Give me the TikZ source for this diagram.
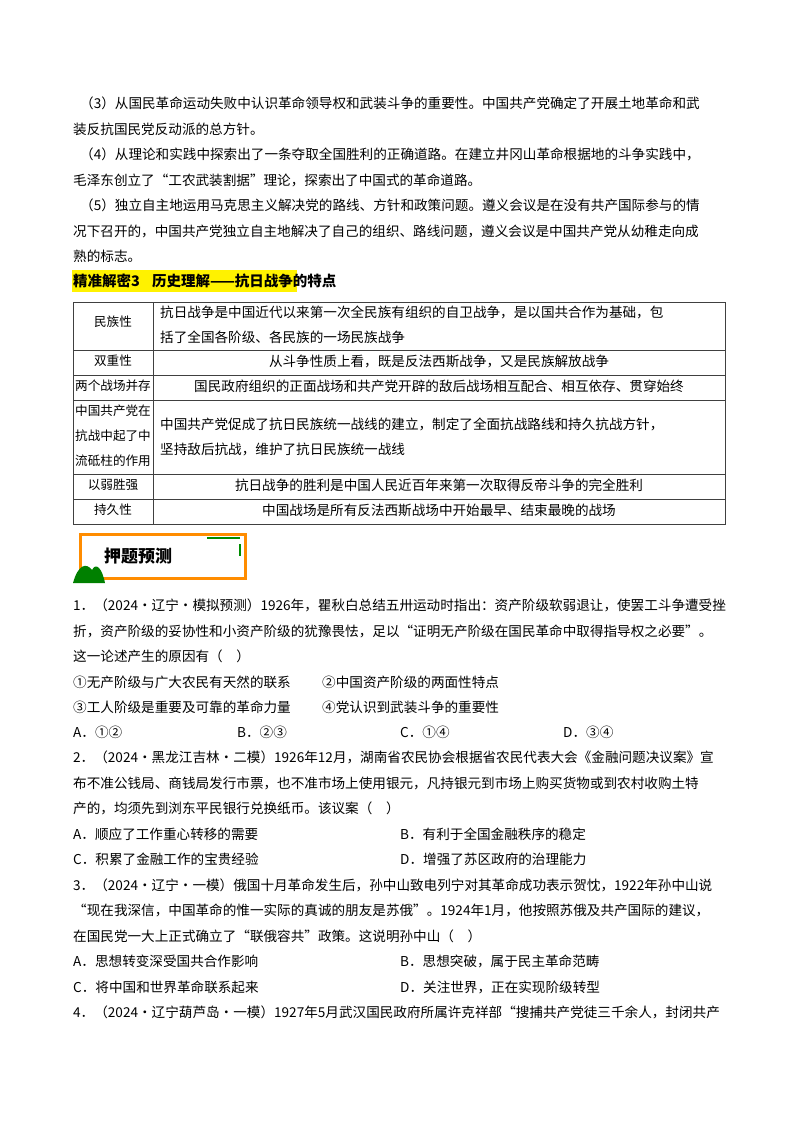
\documentclass[tikz,border=0pt]{standalone}
\usepackage{fontspec}
\setmainfont{Noto Sans CJK SC}
\XeTeXlinebreaklocale "zh"
\XeTeXlinebreakskip=0pt plus 2pt
\newcommand\myfl[4]{\node[anchor=west,inner sep=0pt] (#1) at (#2) {\makebox[#3pt][s]{#4}};}
\newcommand\myll[3]{\node[anchor=west,inner sep=0pt] (#1) at (#2) {#3};}
\newcommand\mycl[3]{\node[inner sep=0pt] (#1) at (#2) {#3};}
\newcommand\mysl[3]{\node[inner sep=0pt,font=\fontsize{12.6}{14}\selectfont] (#1) at (#2) {#3};}
\begin{document}
\begin{tikzpicture}[x=1pt,y=-1pt,font=\fontsize{13.6}{16}\selectfont,
  tline/.style={line width=0.6pt,black!75}]
\useasboundingbox[fill=white] (0,0) rectangle (800,1132);
\myfl{a1}{80,103}{640}{（3）从国民革命运动失败中认识革命领导权和武装斗争的重要性。中国共产党确定了开展土地革命和武}
\myll{a2}{73,129}{装反抗国民党反动派的总方针。}
\myfl{a3}{80,154}{627}{（4）从理论和实践中探索出了一条夺取全国胜利的正确道路。在建立井冈山革命根据地的斗争实践中，}
\myll{a4}{73,180}{毛泽东创立了“工农武装割据”理论，探索出了中国式的革命道路。}
\myfl{a5}{80,205}{640}{（5）独立自主地运用马克思主义解决党的路线、方针和政策问题。遵义会议是在没有共产国际参与的情}
\myfl{a6}{73,231}{647}{况下召开的，中国共产党独立自主地解决了自己的组织、路线问题，遵义会议是中国共产党从幼稚走向成}
\myll{a7}{73,256}{熟的标志。}
\fill[yellow] (72,270) rectangle (297,292);
\node[anchor=west,inner sep=0pt,font=\fontsize{14.5}{16}\selectfont\bfseries] (h) at (73,281) {精准解密3\hspace{12pt}历史理解——抗日战争的特点};
% table
\draw[tline] (73,302) rectangle (725,524);
\foreach \y in {350,375,400,474,499} \draw[tline] (73,\y) -- (725,\y);
\draw[tline] (153,302) -- (153,524);
\mysl{t1}{113,322}{民族性}
\myll{t1a}{160,312}{抗日战争是中国近代以来第一次全民族有组织的自卫战争，是以国共合作为基础，包}
\myll{t1b}{160,337}{括了全国各阶级、各民族的一场民族战争}
\mysl{t2}{113,361}{双重性}
\mycl{t2a}{439,361}{从斗争性质上看，既是反法西斯战争，又是民族解放战争}
\mysl{t3}{113,386}{两个战场并存}
\mycl{t3a}{439,386}{国民政府组织的正面战场和共产党开辟的敌后战场相互配合、相互依存、贯穿始终}
\mysl{t4}{113,411}{中国共产党在}
\mysl{t4b}{113,436}{抗战中起了中}
\mysl{t4c}{113,461}{流砥柱的作用}
\myll{t4a}{160,424}{中国共产党促成了抗日民族统一战线的建立，制定了全面抗战路线和持久抗战方针，}
\myll{t4d}{160,449}{坚持敌后抗战，维护了抗日民族统一战线}
\mysl{t5}{113,485}{以弱胜强}
\mycl{t5a}{439,485}{抗日战争的胜利是中国人民近百年来第一次取得反帝斗争的完全胜利}
\mysl{t6}{113,510}{持久性}
\mycl{t6a}{439,510}{中国战场是所有反法西斯战场中开始最早、结束最晚的战场}
% banner
\draw[orange!90!yellow,line width=3pt] (80,534) rectangle (245,578);
\draw[green!55!black,line width=1.5pt] (207,538) -- (240,538);
\draw[green!55!black,line width=1.2pt] (240,544) -- (240,556);
\fill[green!50!black] (73,583) .. controls (78,565) and (86,562) .. (92,570) .. controls (96,562) and (102,568) .. (105,583) -- cycle;
\node[font=\fontsize{17}{18}\selectfont\bfseries] (bt) at (138,556) {押题预测};
% questions
\myfl{q1}{73,605}{647}{1．（2024·辽宁·模拟预测）1926年，瞿秋白总结五卅运动时指出：资产阶级软弱退让，使罢工斗争遭受挫}
\myfl{q2}{73,631}{653}{折，资产阶级的妥协性和小资产阶级的犹豫畏怯，足以“证明无产阶级在国民革命中取得指导权之必要”。}
\myll{q3}{73,656}{这一论述产生的原因有（\hspace{1em}）}
\myll{q4}{73,682}{①无产阶级与广大农民有天然的联系}
\myll{q5}{322,682}{②中国资产阶级的两面性特点}
\myll{q6}{73,707}{③工人阶级是重要及可靠的革命力量}
\myll{q7}{322,707}{④党认识到武装斗争的重要性}
\myll{q8}{73,732}{A．①②}\myll{q9}{237,732}{B．②③}\myll{q10}{400,732}{C．①④}\myll{q11}{563,732}{D．③④}
\myfl{r1}{73,757}{647}{2．（2024·黑龙江吉林·二模）1926年12月，湖南省农民协会根据省农民代表大会《金融问题决议案》宣}
\myfl{r2}{73,783}{647}{布不准公钱局、商钱局发行市票，也不准市场上使用银元，凡持银元到市场上购买货物或到农村收购土特}
\myll{r3}{73,808}{产的，均须先到浏东平民银行兑换纸币。该议案（\hspace{1em}）}
\myll{r4}{73,834}{A．顺应了工作重心转移的需要}\myll{r5}{400,834}{B．有利于全国金融秩序的稳定}
\myll{r6}{73,859}{C．积累了金融工作的宝贵经验}\myll{r7}{400,859}{D．增强了苏区政府的治理能力}
\myfl{s1}{73,885}{647}{3．（2024·辽宁·一模）俄国十月革命发生后，孙中山致电列宁对其革命成功表示贺忱，1922年孙中山说}
\myfl{s2}{73,910}{653}{“现在我深信，中国革命的惟一实际的真诚的朋友是苏俄”。1924年1月，他按照苏俄及共产国际的建议，}
\myll{s3}{73,936}{在国民党一大上正式确立了“联俄容共”政策。这说明孙中山（\hspace{1em}）}
\myll{s4}{73,961}{A．思想转变深受国共合作影响}\myll{s5}{400,961}{B．思想突破，属于民主革命范畴}
\myll{s6}{73,987}{C．将中国和世界革命联系起来}\myll{s7}{400,987}{D．关注世界，正在实现阶级转型}
\myfl{u1}{73,1012}{647}{4．（2024·辽宁葫芦岛·一模）1927年5月武汉国民政府所属许克祥部“搜捕共产党徒三千余人，封闭共产}
\end{tikzpicture}
\end{document}
